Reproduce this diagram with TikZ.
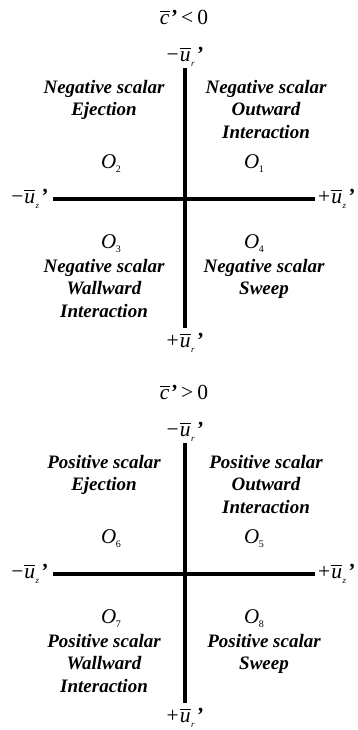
\RequirePackage{fix-cm}
\documentclass[tikz,border=0pt]{standalone}
\usepackage{amsmath}
\usepackage{fontspec}
\setmainfont{Liberation Serif}
\newcommand{\myprime}{{\bfseries\itshape\char"27}}
\newcommand{\ovl}[1]{$\overline{\hbox{\itshape #1}}$}
\newcommand{\subs}[1]{\raisebox{-5pt}{\fontsize{9}{9}\selectfont\itshape #1}}
\newcommand{\ubar}[1]{\ovl{u}\kern0.5pt\subs{#1}\kern1.5pt\myprime}
\newcommand{\cbar}{\ovl{c}\kern0.5pt\myprime}
\newcommand{\Oq}[1]{{\itshape O}\kern-0.5pt\raisebox{-4pt}{\fontsize{10}{10}\selectfont #1}}
\tikzset{
  lab/.style={font=\fontsize{19}{22.5}\selectfont\bfseries\itshape, align=center, inner sep=0pt, anchor=north},
  sym/.style={font=\fontsize{21.5}{24}\selectfont, inner sep=0pt},
  osym/.style={font=\fontsize{21}{24}\selectfont, inner sep=0pt, anchor=base},
  axis/.style={line width=3.3pt}
}
\begin{document}
\begin{tikzpicture}[x=1pt,y=-1pt]
\useasboundingbox (0,0) rectangle (357,730);
% ---------- top diagram ----------
\node[sym] (t1) at (184,17) {\cbar\kern4pt<\kern4pt0};
\node[sym] (urm1) at (185,57) {−\kern1pt\ubar{r}};
\node[sym] (urp1) at (185,343) {+\kern1pt\ubar{r}};
\node[sym,anchor=east] (uzm1) at (48,199) {−\kern1pt\ubar{z}};
\node[sym,anchor=west] (uzp1) at (318,199) {+\kern1pt\ubar{z}};
\coordinate (top1) at (185,68);
\coordinate (bot1) at (185,328);
\coordinate (lft1) at (53,199);
\coordinate (rgt1) at (315,199);
\draw[axis] (top1) -- (bot1);
\draw[axis] (lft1) -- (rgt1);
\node[lab] (q2a) at (104,80) {Negative scalar\\Ejection};
\node[lab] (q1a) at (266,80) {Negative scalar\\Outward\\Interaction};
\node[osym] (o2) at (111,168) {\Oq{2}};
\node[osym] (o1) at (254,168) {\Oq{1}};
\node[osym] (o3) at (111,248) {\Oq{3}};
\node[osym] (o4) at (254,248) {\Oq{4}};
\node[lab] (q3a) at (104,259) {Negative scalar\\Wallward\\Interaction};
\node[lab] (q4a) at (264,259) {Negative scalar\\Sweep};
% ---------- bottom diagram ----------
\begin{scope}[shift={(0,375)}]
\node[sym] (t2) at (184,17) {\cbar\kern4pt>\kern4pt0};
\node[sym] (urm2) at (185,57) {−\kern1pt\ubar{r}};
\node[sym] (urp2) at (185,343) {+\kern1pt\ubar{r}};
\node[sym,anchor=east] (uzm2) at (48,199) {−\kern1pt\ubar{z}};
\node[sym,anchor=west] (uzp2) at (318,199) {+\kern1pt\ubar{z}};
\coordinate (top2) at (185,68);
\coordinate (bot2) at (185,328);
\coordinate (lft2) at (53,199);
\coordinate (rgt2) at (315,199);
\draw[axis] (top2) -- (bot2);
\draw[axis] (lft2) -- (rgt2);
\node[lab] (q6a) at (104,80) {Positive scalar\\Ejection};
\node[lab] (q5a) at (266,80) {Positive scalar\\Outward\\Interaction};
\node[osym] (o6) at (111,168) {\Oq{6}};
\node[osym] (o5) at (254,168) {\Oq{5}};
\node[osym] (o7) at (111,248) {\Oq{7}};
\node[osym] (o8) at (254,248) {\Oq{8}};
\node[lab] (q7a) at (104,259) {Positive scalar\\Wallward\\Interaction};
\node[lab] (q8a) at (264,259) {Positive scalar\\Sweep};
\end{scope}
\end{tikzpicture}
\end{document}
